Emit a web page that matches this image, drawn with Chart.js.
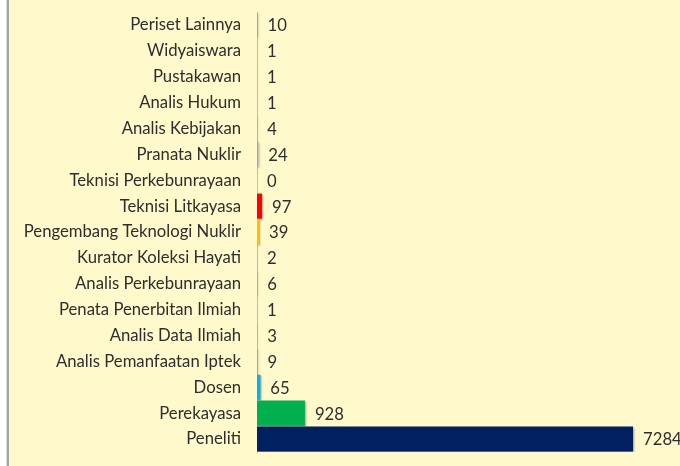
<!DOCTYPE html>
<html>
<head>
<meta charset="utf-8">
<script src="https://cdn.jsdelivr.net/npm/chart.js@4.4.1/dist/chart.umd.min.js"></script>
<style>
html,body{margin:0;padding:0;background:#ffffff;}
#wrap{position:relative;width:680px;height:466px;}
canvas{display:block;}
</style>
</head>
<body>
<div id="wrap"><canvas id="c" width="680" height="466"></canvas></div>
<script>
const categories = [
  "Periset Lainnya","Widyaiswara","Pustakawan","Analis Hukum","Analis Kebijakan",
  "Pranata Nuklir","Teknisi Perkebunrayaan","Teknisi Litkayasa","Pengembang Teknologi Nuklir",
  "Kurator Koleksi Hayati","Analis Perkebunrayaan","Penata Penerbitan Ilmiah","Analis Data Ilmiah",
  "Analis Pemanfaatan Iptek","Dosen","Perekayasa","Peneliti"
];
const values = [10,1,1,1,4,24,0,97,39,2,6,1,3,9,65,928,7284];
const barColors = [
  "#5B9BD5","#5B9BD5","#5B9BD5","#5B9BD5","#5B9BD5",
  "#8EA9DB","#5B9BD5","#FF0000","#FFC000",
  "#5B9BD5","#5B9BD5","#5B9BD5","#5B9BD5",
  "#5B9BD5","#00B0F0","#00B050","#002060"
];

const FONT = "Lato, 'Open Sans', sans-serif";
const TEXT = "#2e2e2e";
const FSIZE = 16.7;

const bgPlugin = {
  id: 'bg',
  beforeDraw(chart) {
    const ctx = chart.ctx;
    ctx.save();
    ctx.fillStyle = '#ffffff';
    ctx.fillRect(0, 0, chart.width, chart.height);
    ctx.fillStyle = '#FFF9CC';
    ctx.fillRect(9, 0, chart.width - 9, chart.height);
    ctx.fillStyle = '#d9d9d9';
    ctx.fillRect(6, 0, 1, chart.height);
    ctx.fillStyle = '#a6a6a6';
    ctx.fillRect(7, 0, 2, chart.height);
    ctx.restore();
  }
};

const shadowPlugin = {
  id: 'shadow',
  beforeDatasetsDraw(chart) {
    const ctx = chart.ctx;
    ctx.save();
    ctx.shadowColor = 'rgba(0,0,0,0.35)';
    ctx.shadowBlur = 2;
    ctx.shadowOffsetX = 1;
    ctx.shadowOffsetY = 1;
  },
  afterDatasetsDraw(chart) {
    chart.ctx.restore();
  }
};

const labelPlugin = {
  id: 'vals',
  afterDatasetsDraw(chart) {
    const ctx = chart.ctx;
    const meta = chart.getDatasetMeta(0);
    ctx.save();
    ctx.font = FSIZE + "px " + FONT;
    ctx.fillStyle = TEXT;
    ctx.textAlign = 'left';
    ctx.textBaseline = 'middle';
    meta.data.forEach((bar, i) => {
      ctx.fillText(String(values[i]), bar.x + 10, bar.y + 1);
    });
    ctx.restore();
  }
};

new Chart(document.getElementById('c'), {
  type: 'bar',
  data: {
    labels: categories,
    datasets: [{
      data: values,
      backgroundColor: barColors,
      borderWidth: 0,
      barPercentage: 0.97,
      categoryPercentage: 1.0
    }]
  },
  options: {
    indexAxis: 'y',
    responsive: false,
    animation: false,
    devicePixelRatio: 1,
    layout: { padding: { top: 12, bottom: 14, left: 0, right: 10 } },
    plugins: { legend: { display: false }, tooltip: { enabled: false } },
    scales: {
      x: {
        display: false,
        min: 0,
        max: 8000
      },
      y: {
        afterFit(scale) {
          scale.width = 257;
          scale.paddingTop = 0;
          scale.paddingBottom = 0;
        },
        grid: { display: false, drawTicks: false },
        border: { display: true, color: '#bfbfbf', width: 1 },
        ticks: {
          padding: 16,
          color: TEXT,
          font: { family: FONT, size: FSIZE }
        }
      }
    }
  },
  plugins: [bgPlugin, shadowPlugin, labelPlugin]
});
</script>
</body>
</html>
